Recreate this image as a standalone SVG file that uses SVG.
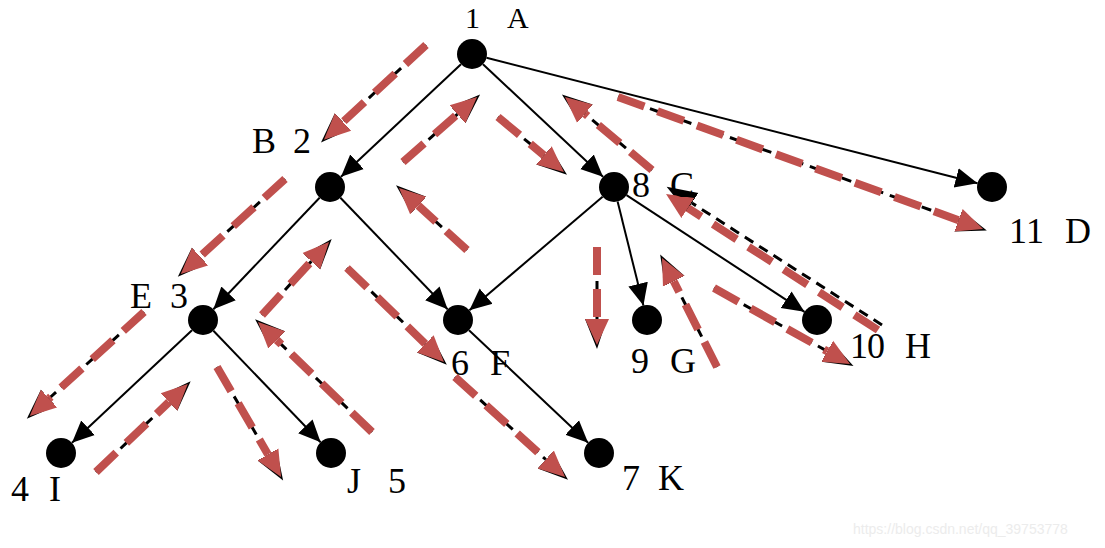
<svg xmlns="http://www.w3.org/2000/svg" width="1105" height="548" viewBox="0 0 1105 548">
<style>
.node circle{fill:#000}
.lbl{font-family:"Liberation Serif","Times New Roman",serif;font-size:36px;fill:#000}
.edge{fill:none;stroke:#000;stroke-width:2;marker-end:url(#ah)}
.sh{fill:none;stroke:#000;stroke-width:3;stroke-dasharray:10 7;marker-end:url(#bh)}
.tr{fill:none;stroke:#c0504d;stroke-width:8;stroke-dasharray:28 14;marker-end:url(#rh)}
.wm{font-family:"Liberation Sans",Arial,sans-serif;font-size:14px;fill:#ececec}
</style>
<defs>
<marker id="ah" markerUnits="userSpaceOnUse" markerWidth="24" markerHeight="22" viewBox="0 -11 24 22" refX="22" refY="0" orient="auto">
<path d="M0,-10 L22,0 L0,10 z" fill="#000"/>
</marker>
<marker id="rh" markerUnits="userSpaceOnUse" markerWidth="28" markerHeight="26" viewBox="0 -13 28 26" refX="0" refY="0" orient="auto">
<path d="M0,-12 L26,0 L0,12 z" fill="#c0504d"/>
</marker>
<marker id="bh" markerUnits="userSpaceOnUse" markerWidth="32" markerHeight="26" viewBox="0 -13 32 26" refX="0" refY="0" orient="auto">
<path d="M0,-10 L30,0 L0,12 z" fill="#000"/>
</marker>
<path id="t1" d="M426,45 L343,122"/>
<path id="t2" d="M285,179 L200,256.5"/>
<path id="t3" d="M144,312 L49,398.5"/>
<path id="t4" d="M96,472 L169,402"/>
<path id="t5" d="M217,367 L268,454.5"/>
<path id="t6" d="M372,432 L276.7,340"/>
<path id="t7" d="M262,315 L311.4,261.2"/>
<path id="t8" d="M347,268 L425.3,343.9"/>
<path id="t9" d="M455,377 L545.8,459.5"/>
<path id="t10" d="M467,250 L418.2,205.5"/>
<path id="t11" d="M403,162 L457.5,114.2"/>
<path id="t12" d="M498,117 L544,155.4"/>
<path id="t13" d="M597,247 L597,319"/>
<path id="t14" d="M717,367 L673.7,281.2"/>
<path id="t15" d="M714,288 L827.3,351.3"/>
<path id="t16" d="M878,330 L687.9,208"/>
<path id="t17" d="M652,170 L584.9,113.7"/>
<path id="t18" d="M618,97 L958.6,220.2"/>
</defs>
<rect width="1105" height="548" fill="#fff"/>
<g id="connectors">
<path class="edge" d="M461,64.2 L341,176.8"/>
<path class="edge" d="M483,64.2 L603,176.8"/>
<path class="edge" d="M486.5,57.7 L977.5,183.3"/>
<path class="edge" d="M319.6,197.8 L213.4,309.2"/>
<path class="edge" d="M340.4,197.8 L447.6,309.2"/>
<path class="edge" d="M602.6,196.7 L469.4,310.3"/>
<path class="edge" d="M617.6,201.6 L643.4,305.4"/>
<path class="edge" d="M626.5,195.2 L804.5,311.8"/>
<path class="edge" d="M192,330.2 L72,442.8"/>
<path class="edge" d="M213.4,330.8 L320.6,442.2"/>
<path class="edge" d="M469,330.3 L588.1,442.7"/>
</g>
<g id="traversal">
<use href="#t1" class="sh"/><use href="#t1" class="tr"/>
<use href="#t2" class="sh"/><use href="#t2" class="tr"/>
<use href="#t3" class="sh"/><use href="#t3" class="tr"/>
<use href="#t4" class="sh"/><use href="#t4" class="tr"/>
<use href="#t5" class="sh"/><use href="#t5" class="tr"/>
<use href="#t6" class="sh"/><use href="#t6" class="tr"/>
<use href="#t7" class="sh"/><use href="#t7" class="tr"/>
<use href="#t8" class="sh"/><use href="#t8" class="tr"/>
<use href="#t9" class="sh"/><use href="#t9" class="tr"/>
<use href="#t10" class="sh"/><use href="#t10" class="tr"/>
<use href="#t11" class="sh"/><use href="#t11" class="tr"/>
<use href="#t12" class="sh"/><use href="#t12" class="tr"/>
<use href="#t13" class="sh"/><use href="#t13" class="tr"/>
<use href="#t14" class="sh"/><use href="#t14" class="tr"/>
<use href="#t15" class="sh"/><use href="#t15" class="tr"/>
<use href="#t16" class="sh" transform="translate(4,-5)"/><use href="#t16" class="tr"/>
<use href="#t17" class="sh"/><use href="#t17" class="tr"/>
<use href="#t18" class="sh"/><use href="#t18" class="tr"/>
</g>
<g id="nA" class="node"><circle cx="472" cy="54" r="15"/><text class="lbl" x="465 507" y="28" style="font-size:30px">1A</text></g>
<g id="nB" class="node"><circle cx="330" cy="187" r="15"/><text class="lbl" x="252 293" y="153">B2</text></g>
<g id="nC" class="node"><circle cx="614" cy="187" r="15"/><text class="lbl" x="632 670" y="197">8C</text></g>
<g id="nD" class="node"><circle cx="992" cy="187" r="15"/><text class="lbl" x="1009 1026 1065" y="243">11D</text></g>
<g id="nE" class="node"><circle cx="203" cy="320" r="15"/><text class="lbl" x="130 170" y="308">E3</text></g>
<g id="nF" class="node"><circle cx="458" cy="320" r="15"/><text class="lbl" x="451 490" y="375">6F</text></g>
<g id="nG" class="node"><circle cx="647" cy="320" r="15"/><text class="lbl" x="631 670" y="373">9G</text></g>
<g id="nH" class="node"><circle cx="817" cy="320" r="15"/><text class="lbl" x="850 867 905" y="358">10H</text></g>
<g id="nI" class="node"><circle cx="61" cy="453" r="15"/><text class="lbl" x="11 49" y="501">4I</text></g>
<g id="nJ" class="node"><circle cx="331" cy="453" r="15"/><text class="lbl" x="347 388" y="493">J5</text></g>
<g id="nK" class="node"><circle cx="599" cy="453" r="15"/><text class="lbl" x="622 658" y="490">7K</text></g>
<text class="wm" x="853" y="534">https://blog.csdn.net/qq_39753778</text>
</svg>
